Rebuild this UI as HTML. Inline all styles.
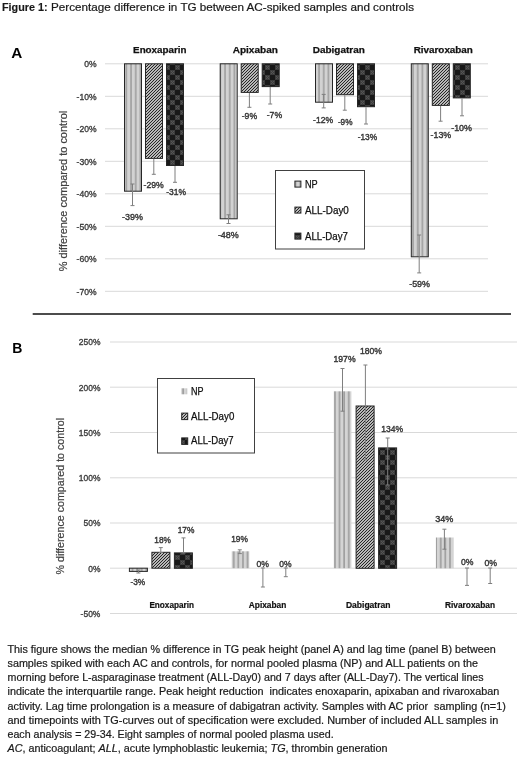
<!DOCTYPE html>
<html><head><meta charset="utf-8"><style>
html,body{margin:0;padding:0;background:#fff;}
body{width:520px;height:758px;overflow:hidden;}
svg{display:block;font-family:"Liberation Sans", sans-serif;will-change:transform;}
</style></head><body>
<svg width="520" height="758" viewBox="0 0 520 758">

<defs>
 <pattern id="npA" patternUnits="userSpaceOnUse" width="4.7" height="6" x="0.3" y="0">
  <rect width="4.7" height="6" fill="#d2d2d2"/>
  <rect x="3" width="1.7" height="6" fill="#a2a2a2"/>
 </pattern>
 <pattern id="npB" patternUnits="userSpaceOnUse" width="4.6" height="6" x="0" y="0">
  <rect width="4.6" height="6" fill="#d4d4d4"/>
  <rect x="2.9" width="1.8" height="6" fill="#a0a0a0"/>
 </pattern>
 <pattern id="d0" patternUnits="userSpaceOnUse" width="3" height="3">
  <rect width="3" height="3" fill="#b8b8b8"/>
  <rect x="0" y="2" width="1" height="1" fill="#262626"/>
  <rect x="1" y="1" width="1" height="1" fill="#262626"/>
  <rect x="2" y="0" width="1" height="1" fill="#262626"/>
 </pattern>
 <pattern id="d7" patternUnits="userSpaceOnUse" width="10" height="10">
  <rect width="10" height="10" fill="#181818"/>
  <rect x="0" y="0" width="5" height="5" fill="#3c3c3c"/>
  <rect x="5" y="5" width="5" height="5" fill="#3c3c3c"/>
  <g fill="#555"><rect x="1" y="1" width="1" height="1"/><rect x="3" y="1" width="1" height="1"/><rect x="2" y="2" width="1" height="1"/><rect x="1" y="3" width="1" height="1"/><rect x="3" y="3" width="1" height="1"/>
  <rect x="6" y="6" width="1" height="1"/><rect x="8" y="6" width="1" height="1"/><rect x="7" y="7" width="1" height="1"/><rect x="6" y="8" width="1" height="1"/><rect x="8" y="8" width="1" height="1"/></g>
 </pattern>
</defs>
<rect width="520" height="758" fill="#fff"/>
<text x="2.0" y="10.5" font-size="11" fill="#1a1a1a" stroke="#1a1a1a" stroke-width="0.15" font-weight="bold" textLength="45.5" lengthAdjust="spacingAndGlyphs">Figure 1:</text>
<text x="51.0" y="10.5" font-size="11" fill="#1a1a1a" stroke="#1a1a1a" stroke-width="0.2" textLength="363.0" lengthAdjust="spacingAndGlyphs">Percentage difference in TG between AC-spiked samples and controls</text>
<text x="11.2" y="57.5" font-size="15.3" fill="#000" font-weight="bold">A</text>
<line x1="105.0" y1="63.8" x2="488.0" y2="63.8" stroke="#d9d9d9" stroke-width="1"/>
<text x="96.6" y="67.1" font-size="9.2" fill="#3a3a3a" stroke="#3a3a3a" stroke-width="0.35" text-anchor="end" textLength="12.4" lengthAdjust="spacingAndGlyphs">0%</text>
<line x1="105.0" y1="96.3" x2="488.0" y2="96.3" stroke="#d9d9d9" stroke-width="1"/>
<text x="96.6" y="99.6" font-size="9.2" fill="#3a3a3a" stroke="#3a3a3a" stroke-width="0.35" text-anchor="end" textLength="20.0" lengthAdjust="spacingAndGlyphs">-10%</text>
<line x1="105.0" y1="128.8" x2="488.0" y2="128.8" stroke="#d9d9d9" stroke-width="1"/>
<text x="96.6" y="132.1" font-size="9.2" fill="#3a3a3a" stroke="#3a3a3a" stroke-width="0.35" text-anchor="end" textLength="20.0" lengthAdjust="spacingAndGlyphs">-20%</text>
<line x1="105.0" y1="161.3" x2="488.0" y2="161.3" stroke="#d9d9d9" stroke-width="1"/>
<text x="96.6" y="164.6" font-size="9.2" fill="#3a3a3a" stroke="#3a3a3a" stroke-width="0.35" text-anchor="end" textLength="20.0" lengthAdjust="spacingAndGlyphs">-30%</text>
<line x1="105.0" y1="193.8" x2="488.0" y2="193.8" stroke="#d9d9d9" stroke-width="1"/>
<text x="96.6" y="197.1" font-size="9.2" fill="#3a3a3a" stroke="#3a3a3a" stroke-width="0.35" text-anchor="end" textLength="20.0" lengthAdjust="spacingAndGlyphs">-40%</text>
<line x1="105.0" y1="226.3" x2="488.0" y2="226.3" stroke="#d9d9d9" stroke-width="1"/>
<text x="96.6" y="229.6" font-size="9.2" fill="#3a3a3a" stroke="#3a3a3a" stroke-width="0.35" text-anchor="end" textLength="20.0" lengthAdjust="spacingAndGlyphs">-50%</text>
<line x1="105.0" y1="258.8" x2="488.0" y2="258.8" stroke="#d9d9d9" stroke-width="1"/>
<text x="96.6" y="262.1" font-size="9.2" fill="#3a3a3a" stroke="#3a3a3a" stroke-width="0.35" text-anchor="end" textLength="20.0" lengthAdjust="spacingAndGlyphs">-60%</text>
<line x1="105.0" y1="291.3" x2="488.0" y2="291.3" stroke="#d9d9d9" stroke-width="1"/>
<text x="96.6" y="294.6" font-size="9.2" fill="#3a3a3a" stroke="#3a3a3a" stroke-width="0.35" text-anchor="end" textLength="20.0" lengthAdjust="spacingAndGlyphs">-70%</text>
<text transform="translate(66.6,191) rotate(-90)" font-size="10.6" fill="#404040" stroke="#404040" stroke-width="0.2" text-anchor="middle" textLength="160.5" lengthAdjust="spacingAndGlyphs">% difference compared to control</text>
<rect x="124.5" y="63.8" width="17.0" height="127.4" fill="url(#npA)" stroke="#262626" stroke-width="1"/>
<rect x="145.5" y="63.8" width="17.0" height="94.6" fill="url(#d0)" stroke="#262626" stroke-width="1"/>
<rect x="166.5" y="63.8" width="17.0" height="101.7" fill="url(#d7)" stroke="#262626" stroke-width="1"/>
<rect x="220.2" y="63.8" width="17.0" height="155.0" fill="url(#npA)" stroke="#262626" stroke-width="1"/>
<rect x="241.2" y="63.8" width="17.0" height="28.6" fill="url(#d0)" stroke="#262626" stroke-width="1"/>
<rect x="262.2" y="63.8" width="17.0" height="22.8" fill="url(#d7)" stroke="#262626" stroke-width="1"/>
<rect x="315.5" y="63.8" width="17.0" height="38.4" fill="url(#npA)" stroke="#262626" stroke-width="1"/>
<rect x="336.5" y="63.8" width="17.0" height="30.9" fill="url(#d0)" stroke="#262626" stroke-width="1"/>
<rect x="357.5" y="63.8" width="17.0" height="42.9" fill="url(#d7)" stroke="#262626" stroke-width="1"/>
<rect x="411.3" y="63.8" width="17.0" height="193.0" fill="url(#npA)" stroke="#262626" stroke-width="1"/>
<rect x="432.3" y="63.8" width="17.0" height="41.6" fill="url(#d0)" stroke="#262626" stroke-width="1"/>
<rect x="453.3" y="63.8" width="17.0" height="34.1" fill="url(#d7)" stroke="#262626" stroke-width="1"/>
<line x1="132.5" y1="184.0" x2="132.5" y2="205.6" stroke="#7f7f7f" stroke-width="1"/>
<line x1="130.5" y1="184.0" x2="134.5" y2="184.0" stroke="#7f7f7f" stroke-width="1"/>
<line x1="130.5" y1="205.6" x2="134.5" y2="205.6" stroke="#7f7f7f" stroke-width="1"/>
<line x1="153.8" y1="158.9" x2="153.8" y2="174.3" stroke="#7f7f7f" stroke-width="1"/>
<line x1="151.8" y1="174.3" x2="155.8" y2="174.3" stroke="#7f7f7f" stroke-width="1"/>
<line x1="175.0" y1="166.0" x2="175.0" y2="182.3" stroke="#7f7f7f" stroke-width="1"/>
<line x1="173.0" y1="182.3" x2="177.0" y2="182.3" stroke="#7f7f7f" stroke-width="1"/>
<line x1="228.5" y1="214.8" x2="228.5" y2="223.5" stroke="#7f7f7f" stroke-width="1"/>
<line x1="226.5" y1="214.8" x2="230.5" y2="214.8" stroke="#7f7f7f" stroke-width="1"/>
<line x1="226.5" y1="223.5" x2="230.5" y2="223.5" stroke="#7f7f7f" stroke-width="1"/>
<line x1="249.4" y1="92.9" x2="249.4" y2="107.3" stroke="#7f7f7f" stroke-width="1"/>
<line x1="247.4" y1="107.3" x2="251.4" y2="107.3" stroke="#7f7f7f" stroke-width="1"/>
<line x1="270.2" y1="87.0" x2="270.2" y2="104.0" stroke="#7f7f7f" stroke-width="1"/>
<line x1="268.2" y1="104.0" x2="272.2" y2="104.0" stroke="#7f7f7f" stroke-width="1"/>
<line x1="323.7" y1="94.4" x2="323.7" y2="107.9" stroke="#7f7f7f" stroke-width="1"/>
<line x1="321.7" y1="94.4" x2="325.7" y2="94.4" stroke="#7f7f7f" stroke-width="1"/>
<line x1="321.7" y1="107.9" x2="325.7" y2="107.9" stroke="#7f7f7f" stroke-width="1"/>
<line x1="344.8" y1="95.2" x2="344.8" y2="110.2" stroke="#7f7f7f" stroke-width="1"/>
<line x1="342.8" y1="110.2" x2="346.8" y2="110.2" stroke="#7f7f7f" stroke-width="1"/>
<line x1="366.0" y1="107.2" x2="366.0" y2="124.0" stroke="#7f7f7f" stroke-width="1"/>
<line x1="364.0" y1="124.0" x2="368.0" y2="124.0" stroke="#7f7f7f" stroke-width="1"/>
<line x1="419.2" y1="235.0" x2="419.2" y2="272.9" stroke="#7f7f7f" stroke-width="1"/>
<line x1="417.2" y1="235.0" x2="421.2" y2="235.0" stroke="#7f7f7f" stroke-width="1"/>
<line x1="417.2" y1="272.9" x2="421.2" y2="272.9" stroke="#7f7f7f" stroke-width="1"/>
<line x1="440.6" y1="105.9" x2="440.6" y2="121.2" stroke="#7f7f7f" stroke-width="1"/>
<line x1="438.6" y1="121.2" x2="442.6" y2="121.2" stroke="#7f7f7f" stroke-width="1"/>
<line x1="462.0" y1="98.4" x2="462.0" y2="115.8" stroke="#7f7f7f" stroke-width="1"/>
<line x1="460.0" y1="115.8" x2="464.0" y2="115.8" stroke="#7f7f7f" stroke-width="1"/>
<text x="122.1" y="219.7" font-size="9.2" fill="#363636" stroke="#363636" stroke-width="0.4" textLength="20.8" lengthAdjust="spacingAndGlyphs">-39%</text>
<text x="143.6" y="188.3" font-size="9.2" fill="#363636" stroke="#363636" stroke-width="0.4" textLength="20.2" lengthAdjust="spacingAndGlyphs">-29%</text>
<text x="166.2" y="194.8" font-size="9.2" fill="#363636" stroke="#363636" stroke-width="0.4" textLength="19.8" lengthAdjust="spacingAndGlyphs">-31%</text>
<text x="217.9" y="238.3" font-size="9.2" fill="#363636" stroke="#363636" stroke-width="0.4" textLength="20.9" lengthAdjust="spacingAndGlyphs">-48%</text>
<text x="241.7" y="118.9" font-size="9.2" fill="#363636" stroke="#363636" stroke-width="0.4" textLength="15.4" lengthAdjust="spacingAndGlyphs">-9%</text>
<text x="266.7" y="117.7" font-size="9.2" fill="#363636" stroke="#363636" stroke-width="0.4" textLength="15.4" lengthAdjust="spacingAndGlyphs">-7%</text>
<text x="313.1" y="123.1" font-size="9.2" fill="#363636" stroke="#363636" stroke-width="0.4" textLength="20.0" lengthAdjust="spacingAndGlyphs">-12%</text>
<text x="337.9" y="125.0" font-size="9.2" fill="#363636" stroke="#363636" stroke-width="0.4" textLength="14.6" lengthAdjust="spacingAndGlyphs">-9%</text>
<text x="357.7" y="140.3" font-size="9.2" fill="#363636" stroke="#363636" stroke-width="0.4" textLength="19.5" lengthAdjust="spacingAndGlyphs">-13%</text>
<text x="409.2" y="287.3" font-size="9.2" fill="#363636" stroke="#363636" stroke-width="0.4" textLength="20.8" lengthAdjust="spacingAndGlyphs">-59%</text>
<text x="430.6" y="137.5" font-size="9.2" fill="#363636" stroke="#363636" stroke-width="0.4" textLength="20.6" lengthAdjust="spacingAndGlyphs">-13%</text>
<text x="451.2" y="131.3" font-size="9.2" fill="#363636" stroke="#363636" stroke-width="0.4" textLength="20.8" lengthAdjust="spacingAndGlyphs">-10%</text>
<text x="133.1" y="53.1" font-size="9.6" fill="#111" stroke="#111" stroke-width="0.25" font-weight="bold" textLength="53.4" lengthAdjust="spacingAndGlyphs">Enoxaparin</text>
<text x="232.7" y="53.1" font-size="9.6" fill="#111" stroke="#111" stroke-width="0.25" font-weight="bold" textLength="45.2" lengthAdjust="spacingAndGlyphs">Apixaban</text>
<text x="312.7" y="53.1" font-size="9.6" fill="#111" stroke="#111" stroke-width="0.25" font-weight="bold" textLength="52.1" lengthAdjust="spacingAndGlyphs">Dabigatran</text>
<text x="413.7" y="53.1" font-size="9.6" fill="#111" stroke="#111" stroke-width="0.25" font-weight="bold" textLength="59.2" lengthAdjust="spacingAndGlyphs">Rivaroxaban</text>
<rect x="275.5" y="170.5" width="89.0" height="78.5" fill="#fff" stroke="#404040" stroke-width="1"/>
<rect x="294.9" y="181.1" width="6.0" height="6.0" fill="url(#npA)" stroke="#262626" stroke-width="1"/>
<text x="305.0" y="187.9" font-size="10.4" fill="#111" stroke="#111" stroke-width="0.25" textLength="12.7" lengthAdjust="spacingAndGlyphs">NP</text>
<rect x="294.9" y="207.1" width="6.0" height="6.0" fill="url(#d0)" stroke="#262626" stroke-width="1"/>
<text x="305.0" y="213.9" font-size="10.4" fill="#111" stroke="#111" stroke-width="0.25" textLength="43.8" lengthAdjust="spacingAndGlyphs">ALL-Day0</text>
<rect x="294.9" y="233.1" width="6.0" height="6.0" fill="url(#d7)" stroke="#262626" stroke-width="1"/>
<text x="305.0" y="239.9" font-size="10.4" fill="#111" stroke="#111" stroke-width="0.25" textLength="42.9" lengthAdjust="spacingAndGlyphs">ALL-Day7</text>
<line x1="32.7" y1="314.0" x2="511.0" y2="314.0" stroke="#111" stroke-width="1.7"/>
<text x="12.3" y="353.0" font-size="14" fill="#000" font-weight="bold">B</text>
<line x1="110.0" y1="342.0" x2="517.0" y2="342.0" stroke="#d9d9d9" stroke-width="1"/>
<text x="100.4" y="345.3" font-size="9.2" fill="#3a3a3a" stroke="#3a3a3a" stroke-width="0.35" text-anchor="end" textLength="21.6" lengthAdjust="spacingAndGlyphs">250%</text>
<line x1="110.0" y1="387.2" x2="517.0" y2="387.2" stroke="#d9d9d9" stroke-width="1"/>
<text x="100.4" y="390.6" font-size="9.2" fill="#3a3a3a" stroke="#3a3a3a" stroke-width="0.35" text-anchor="end" textLength="21.6" lengthAdjust="spacingAndGlyphs">200%</text>
<line x1="110.0" y1="432.5" x2="517.0" y2="432.5" stroke="#d9d9d9" stroke-width="1"/>
<text x="100.4" y="435.8" font-size="9.2" fill="#3a3a3a" stroke="#3a3a3a" stroke-width="0.35" text-anchor="end" textLength="21.6" lengthAdjust="spacingAndGlyphs">150%</text>
<line x1="110.0" y1="477.8" x2="517.0" y2="477.8" stroke="#d9d9d9" stroke-width="1"/>
<text x="100.4" y="481.1" font-size="9.2" fill="#3a3a3a" stroke="#3a3a3a" stroke-width="0.35" text-anchor="end" textLength="21.6" lengthAdjust="spacingAndGlyphs">100%</text>
<line x1="110.0" y1="523.0" x2="517.0" y2="523.0" stroke="#d9d9d9" stroke-width="1"/>
<text x="100.4" y="526.3" font-size="9.2" fill="#3a3a3a" stroke="#3a3a3a" stroke-width="0.35" text-anchor="end" textLength="16.9" lengthAdjust="spacingAndGlyphs">50%</text>
<line x1="110.0" y1="568.2" x2="517.0" y2="568.2" stroke="#d9d9d9" stroke-width="1"/>
<text x="100.4" y="571.5" font-size="9.2" fill="#3a3a3a" stroke="#3a3a3a" stroke-width="0.35" text-anchor="end" textLength="12.2" lengthAdjust="spacingAndGlyphs">0%</text>
<line x1="110.0" y1="613.5" x2="517.0" y2="613.5" stroke="#d9d9d9" stroke-width="1"/>
<text x="100.4" y="616.8" font-size="9.2" fill="#3a3a3a" stroke="#3a3a3a" stroke-width="0.35" text-anchor="end" textLength="19.8" lengthAdjust="spacingAndGlyphs">-50%</text>
<text transform="translate(63.6,496.2) rotate(-90)" font-size="10.6" fill="#404040" stroke="#404040" stroke-width="0.2" text-anchor="middle" textLength="156.5" lengthAdjust="spacingAndGlyphs">% difference compared to control</text>
<rect x="129.4" y="568.2" width="18.0" height="3.2" fill="url(#npB)" stroke="#262626" stroke-width="1"/>
<rect x="151.9" y="552.3" width="18.0" height="15.9" fill="url(#d0)" stroke="#262626" stroke-width="1"/>
<rect x="174.4" y="552.9" width="18.0" height="15.4" fill="url(#d7)" stroke="#262626" stroke-width="1"/>
<rect x="231.7" y="551.3" width="17.6" height="16.9" fill="url(#npB)"/>
<rect x="333.8" y="391.3" width="17.6" height="176.9" fill="url(#npB)"/>
<rect x="356.1" y="406.0" width="18.0" height="162.3" fill="url(#d0)" stroke="#262626" stroke-width="1"/>
<rect x="378.6" y="447.9" width="18.0" height="120.4" fill="url(#d7)" stroke="#262626" stroke-width="1"/>
<rect x="435.9" y="537.5" width="17.6" height="30.8" fill="url(#npB)"/>
<line x1="138.4" y1="570.0" x2="138.4" y2="573.0" stroke="#7f7f7f" stroke-width="1"/>
<line x1="136.4" y1="570.0" x2="140.4" y2="570.0" stroke="#7f7f7f" stroke-width="1"/>
<line x1="136.4" y1="573.0" x2="140.4" y2="573.0" stroke="#7f7f7f" stroke-width="1"/>
<line x1="160.8" y1="547.6" x2="160.8" y2="552.5" stroke="#7f7f7f" stroke-width="1"/>
<line x1="158.8" y1="547.6" x2="162.8" y2="547.6" stroke="#7f7f7f" stroke-width="1"/>
<line x1="158.8" y1="552.5" x2="162.8" y2="552.5" stroke="#7f7f7f" stroke-width="1"/>
<line x1="183.5" y1="537.9" x2="183.5" y2="553.0" stroke="#7f7f7f" stroke-width="1"/>
<line x1="181.5" y1="537.9" x2="185.5" y2="537.9" stroke="#7f7f7f" stroke-width="1"/>
<line x1="181.5" y1="553.0" x2="185.5" y2="553.0" stroke="#7f7f7f" stroke-width="1"/>
<line x1="239.8" y1="549.8" x2="239.8" y2="553.6" stroke="#7f7f7f" stroke-width="1"/>
<line x1="237.8" y1="549.8" x2="241.8" y2="549.8" stroke="#7f7f7f" stroke-width="1"/>
<line x1="237.8" y1="553.6" x2="241.8" y2="553.6" stroke="#7f7f7f" stroke-width="1"/>
<line x1="262.9" y1="568.0" x2="262.9" y2="587.0" stroke="#7f7f7f" stroke-width="1"/>
<line x1="260.9" y1="568.0" x2="264.9" y2="568.0" stroke="#7f7f7f" stroke-width="1"/>
<line x1="260.9" y1="587.0" x2="264.9" y2="587.0" stroke="#7f7f7f" stroke-width="1"/>
<line x1="285.8" y1="568.0" x2="285.8" y2="576.7" stroke="#7f7f7f" stroke-width="1"/>
<line x1="283.8" y1="568.0" x2="287.8" y2="568.0" stroke="#7f7f7f" stroke-width="1"/>
<line x1="283.8" y1="576.7" x2="287.8" y2="576.7" stroke="#7f7f7f" stroke-width="1"/>
<line x1="342.5" y1="368.5" x2="342.5" y2="411.2" stroke="#7f7f7f" stroke-width="1"/>
<line x1="340.5" y1="368.5" x2="344.5" y2="368.5" stroke="#7f7f7f" stroke-width="1"/>
<line x1="340.5" y1="411.2" x2="344.5" y2="411.2" stroke="#7f7f7f" stroke-width="1"/>
<line x1="365.4" y1="365.0" x2="365.4" y2="459.8" stroke="#7f7f7f" stroke-width="1"/>
<line x1="363.4" y1="365.0" x2="367.4" y2="365.0" stroke="#7f7f7f" stroke-width="1"/>
<line x1="363.4" y1="459.8" x2="367.4" y2="459.8" stroke="#7f7f7f" stroke-width="1"/>
<line x1="387.7" y1="438.0" x2="387.7" y2="485.0" stroke="#7f7f7f" stroke-width="1"/>
<line x1="385.7" y1="438.0" x2="389.7" y2="438.0" stroke="#7f7f7f" stroke-width="1"/>
<line x1="385.7" y1="485.0" x2="389.7" y2="485.0" stroke="#7f7f7f" stroke-width="1"/>
<line x1="444.4" y1="529.2" x2="444.4" y2="549.2" stroke="#7f7f7f" stroke-width="1"/>
<line x1="442.4" y1="529.2" x2="446.4" y2="529.2" stroke="#7f7f7f" stroke-width="1"/>
<line x1="442.4" y1="549.2" x2="446.4" y2="549.2" stroke="#7f7f7f" stroke-width="1"/>
<line x1="467.0" y1="568.0" x2="467.0" y2="585.4" stroke="#7f7f7f" stroke-width="1"/>
<line x1="465.0" y1="568.0" x2="469.0" y2="568.0" stroke="#7f7f7f" stroke-width="1"/>
<line x1="465.0" y1="585.4" x2="469.0" y2="585.4" stroke="#7f7f7f" stroke-width="1"/>
<line x1="490.2" y1="568.0" x2="490.2" y2="583.5" stroke="#7f7f7f" stroke-width="1"/>
<line x1="488.2" y1="568.0" x2="492.2" y2="568.0" stroke="#7f7f7f" stroke-width="1"/>
<line x1="488.2" y1="583.5" x2="492.2" y2="583.5" stroke="#7f7f7f" stroke-width="1"/>
<text x="130.5" y="585.1" font-size="9.2" fill="#363636" stroke="#363636" stroke-width="0.4" textLength="14.7" lengthAdjust="spacingAndGlyphs">-3%</text>
<text x="154.3" y="542.9" font-size="9.2" fill="#363636" stroke="#363636" stroke-width="0.4" textLength="16.6" lengthAdjust="spacingAndGlyphs">18%</text>
<text x="177.7" y="532.7" font-size="9.2" fill="#363636" stroke="#363636" stroke-width="0.4" textLength="16.7" lengthAdjust="spacingAndGlyphs">17%</text>
<text x="231.2" y="542.1" font-size="9.2" fill="#363636" stroke="#363636" stroke-width="0.4" textLength="16.7" lengthAdjust="spacingAndGlyphs">19%</text>
<text x="256.5" y="567.0" font-size="9.2" fill="#363636" stroke="#363636" stroke-width="0.4" textLength="12.5" lengthAdjust="spacingAndGlyphs">0%</text>
<text x="279.2" y="567.0" font-size="9.2" fill="#363636" stroke="#363636" stroke-width="0.4" textLength="12.3" lengthAdjust="spacingAndGlyphs">0%</text>
<text x="333.5" y="361.6" font-size="9.2" fill="#363636" stroke="#363636" stroke-width="0.4" textLength="22.1" lengthAdjust="spacingAndGlyphs">197%</text>
<text x="360.0" y="354.3" font-size="9.2" fill="#363636" stroke="#363636" stroke-width="0.4" textLength="22.0" lengthAdjust="spacingAndGlyphs">180%</text>
<text x="381.2" y="432.1" font-size="9.2" fill="#363636" stroke="#363636" stroke-width="0.4" textLength="21.8" lengthAdjust="spacingAndGlyphs">134%</text>
<text x="435.2" y="521.5" font-size="9.2" fill="#363636" stroke="#363636" stroke-width="0.4" textLength="18.1" lengthAdjust="spacingAndGlyphs">34%</text>
<text x="461.0" y="564.6" font-size="9.2" fill="#363636" stroke="#363636" stroke-width="0.4" textLength="12.5" lengthAdjust="spacingAndGlyphs">0%</text>
<text x="484.4" y="565.6" font-size="9.2" fill="#363636" stroke="#363636" stroke-width="0.4" textLength="12.6" lengthAdjust="spacingAndGlyphs">0%</text>
<text x="149.4" y="607.6" font-size="8.4" fill="#111" stroke="#111" stroke-width="0.2" font-weight="bold" textLength="44.6" lengthAdjust="spacingAndGlyphs">Enoxaparin</text>
<text x="248.8" y="607.6" font-size="8.4" fill="#111" stroke="#111" stroke-width="0.2" font-weight="bold" textLength="37.5" lengthAdjust="spacingAndGlyphs">Apixaban</text>
<text x="345.9" y="607.6" font-size="8.4" fill="#111" stroke="#111" stroke-width="0.2" font-weight="bold" textLength="44.6" lengthAdjust="spacingAndGlyphs">Dabigatran</text>
<text x="445.0" y="607.6" font-size="8.4" fill="#111" stroke="#111" stroke-width="0.2" font-weight="bold" textLength="50.0" lengthAdjust="spacingAndGlyphs">Rivaroxaban</text>
<rect x="157.5" y="378.5" width="97.0" height="74.5" fill="#fff" stroke="#404040" stroke-width="1"/>
<rect x="181.2" y="388.3" width="6.0" height="6.0" fill="url(#npB)"/>
<text x="191.1" y="394.8" font-size="10.2" fill="#111" stroke="#111" stroke-width="0.25" textLength="12.5" lengthAdjust="spacingAndGlyphs">NP</text>
<rect x="181.7" y="413.1" width="6.0" height="6.5" fill="url(#d0)" stroke="#262626" stroke-width="1"/>
<text x="191.1" y="419.6" font-size="10.2" fill="#111" stroke="#111" stroke-width="0.25" textLength="43.2" lengthAdjust="spacingAndGlyphs">ALL-Day0</text>
<rect x="181.7" y="437.9" width="6.0" height="6.5" fill="url(#d7)" stroke="#262626" stroke-width="1"/>
<text x="191.1" y="444.4" font-size="10.2" fill="#111" stroke="#111" stroke-width="0.25" textLength="42.5" lengthAdjust="spacingAndGlyphs">ALL-Day7</text>
<text x="7.5" y="652.8" font-size="10.4" fill="#1a1a1a" stroke="#1a1a1a" stroke-width="0.2" textLength="488.3" lengthAdjust="spacingAndGlyphs" xml:space="preserve">This figure shows the median % difference in TG peak height (panel A) and lag time (panel B) between</text>
<text x="7.5" y="667.0" font-size="10.4" fill="#1a1a1a" stroke="#1a1a1a" stroke-width="0.2" textLength="470.5" lengthAdjust="spacingAndGlyphs" xml:space="preserve">samples spiked with each AC and controls, for normal pooled plasma (NP) and ALL patients on the</text>
<text x="7.5" y="681.2" font-size="10.4" fill="#1a1a1a" stroke="#1a1a1a" stroke-width="0.2" textLength="476.1" lengthAdjust="spacingAndGlyphs" xml:space="preserve">morning before L-asparaginase treatment (ALL-Day0) and 7 days after (ALL-Day7). The vertical lines</text>
<text x="7.5" y="695.4" font-size="10.4" fill="#1a1a1a" stroke="#1a1a1a" stroke-width="0.2" textLength="491.8" lengthAdjust="spacingAndGlyphs" xml:space="preserve">indicate the interquartile range. Peak height reduction  indicates enoxaparin, apixaban and rivaroxaban</text>
<text x="7.5" y="709.6" font-size="10.4" fill="#1a1a1a" stroke="#1a1a1a" stroke-width="0.2" textLength="498.3" lengthAdjust="spacingAndGlyphs" xml:space="preserve">activity. Lag time prolongation is a measure of dabigatran activity. Samples with AC prior  sampling (n=1)</text>
<text x="7.5" y="723.8" font-size="10.4" fill="#1a1a1a" stroke="#1a1a1a" stroke-width="0.2" textLength="490.7" lengthAdjust="spacingAndGlyphs" xml:space="preserve">and timepoints with TG-curves out of specification were excluded. Number of included ALL samples in</text>
<text x="7.5" y="738.0" font-size="10.4" fill="#1a1a1a" stroke="#1a1a1a" stroke-width="0.2" textLength="326.1" lengthAdjust="spacingAndGlyphs" xml:space="preserve">each analysis = 29-34. Eight samples of normal pooled plasma used.</text>
<text x="7.5" y="752.2" font-size="10.4" fill="#1a1a1a" stroke="#1a1a1a" stroke-width="0.2" textLength="379.9" lengthAdjust="spacingAndGlyphs"><tspan font-style="italic">AC</tspan>, anticoagulant; <tspan font-style="italic">ALL</tspan>, acute lymphoblastic leukemia; <tspan font-style="italic">TG</tspan>, thrombin generation</text>
</svg>
</body></html>
